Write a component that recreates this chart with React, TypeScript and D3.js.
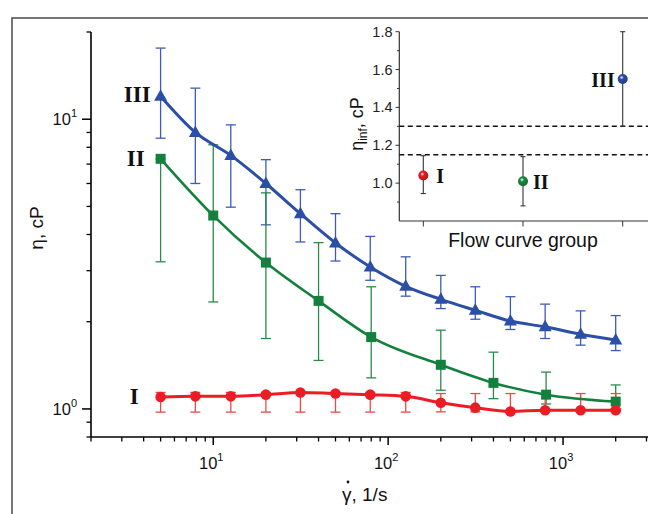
import React from "react";
import * as d3 from "d3";

// shear rate, 1/s
const rates = [5, 7.9, 12.6, 20, 31.5, 50, 79, 126, 200, 315, 500, 790, 1260, 2000];
const greenRates = [5, 10, 20, 40, 80, 200, 400, 800, 2000];

// group III (blue)
const blueVal = [12.0, 9.0, 7.5, 6.0, 4.72, 3.74, 3.09, 2.65, 2.39, 2.19, 2.01, 1.92, 1.81, 1.73];
const blueHi = [17.6, 12.8, 9.56, 7.25, 5.71, 4.72, 3.94, 3.35, 2.89, 2.64, 2.44, 2.3, 2.18, 2.1];
const blueLo = [8.6, 6.0, 4.97, 4.32, 3.77, 3.24, 2.78, 2.45, 2.22, 2.04, 1.88, 1.75, 1.66, 1.59];

// group II (green)
const greenVal = [7.3, 4.65, 3.2, 2.36, 1.77, 1.42, 1.23, 1.12, 1.06];
const greenHi = [7.3, 8.16, 5.57, 3.75, 2.64, 1.87, 1.57, 1.34, 1.21];
const greenLo = [3.22, 2.34, 1.75, 1.47, 1.28, 1.16, 1.085, 1.04, 1.0];

// group I (red)
const redVal = [1.1, 1.105, 1.105, 1.12, 1.14, 1.13, 1.12, 1.105, 1.05, 1.01, 0.98, 0.99, 0.99, 0.99];
const redHi = [1.14, 1.14, 1.14, 1.14, 1.14, 1.14, 1.14, 1.14, 1.13, 1.13, 1.13, 1.13, 1.13, 1.13];
const redLo = [0.975, 0.975, 0.975, 0.975, 0.975, 0.975, 0.975, 0.975, 0.977, 0.977, 0.977, 0.977, 0.977, 0.977];

// inset: infinite-shear viscosity per group
const groups = ["I", "II", "III"];
const infVal = [1.04, 1.01, 1.55];
const infHi = [1.145, 1.14, 1.8];
const infLo = [0.945, 0.88, 1.3];
const dashLevels = [1.3, 1.15];
const insetTicks = [1.0, 1.2, 1.4, 1.6, 1.8];

const BLUE = "#2b4ea6";
const GREEN = "#13803d";
const RED = "#ec1c24";

const App = () => {
  const x = d3.scaleLog().domain([2, 5000]).range([91, 685.3]);
  const y = d3.scaleLog().domain([0.8, 20]).range([437, 32]);

  const xMinor = [2, 3, 4, 5, 6, 7, 8, 9].flatMap((m) => [m, m * 10, m * 100, m * 1000]).filter((v) => v <= 5000);
  const xMajor = [10, 100, 1000];
  const yMinor = [0.8, 0.9, 2, 3, 4, 5, 6, 7, 8, 9, 20];
  const yMajor = [1, 10];

  const line = d3
    .line<[number, number]>()
    .x((d) => x(d[0]))
    .y((d) => y(d[1]))
    .curve(d3.curveMonotoneX);

  const series = [
    { xs: rates, v: blueVal, hi: blueHi, lo: blueLo, color: BLUE, bar: "#3d5cb8", w: 3 },
    { xs: greenRates, v: greenVal, hi: greenHi, lo: greenLo, color: GREEN, bar: "#2a8a4c", w: 2.6 },
    { xs: rates, v: redVal, hi: redHi, lo: redLo, color: RED, bar: "#f04848", w: 3 },
  ];

  // inset scales
  const ix = d3.scalePoint<string>().domain(groups).range([423.3, 622.7]);
  const iy = d3.scaleLinear().domain([0.8, 1.8]).range([221, 31.7]);
  const insetMinor = d3.range(0.9, 1.81, 0.2);
  const sphere = [RED, "#1a8c40", "#2d4fa8"];

  const font = "Arial, 'Liberation Sans', sans-serif";
  const serif = "'Times New Roman', 'Liberation Serif', serif";

  return (
    <svg width={648} height={514} style={{ position: "fixed", left: 0, top: 0, background: "#fff" }}>
      <defs>
        {sphere.map((c, i) => (
          <radialGradient key={i} id={`sph${i}`} cx="0.4" cy="0.35" r="0.65">
            <stop offset="0" stopColor="#ffffff" stopOpacity="0.9" />
            <stop offset="0.3" stopColor={c} />
            <stop offset="1" stopColor={d3.color(c)!.darker(0.8).toString()} />
          </radialGradient>
        ))}
      </defs>

      <rect x={12} y={18} width={700} height={600} fill="none" stroke="#4a4a4a" strokeWidth={1.5} />

      {/* main axes */}
      <line x1={91} x2={91} y1={32} y2={437} stroke="#000" strokeWidth={1.6} />
      <line x1={91} x2={648} y1={437} y2={437} stroke="#000" strokeWidth={1.6} />
      {xMinor.map((v) => (
        <line key={`xm${v}`} x1={x(v)} x2={x(v)} y1={437} y2={441.5} stroke="#000" strokeWidth={1.3} />
      ))}
      {xMajor.map((v) => (
        <g key={`xM${v}`}>
          <line x1={x(v)} x2={x(v)} y1={437} y2={445} stroke="#000" strokeWidth={1.5} />
          <text x={x(v) - 2} y={469} textAnchor="middle" fontFamily={font} fontSize={16.5} fill="#111">
            10<tspan dy={-8} fontSize={11}>{Math.log10(v)}</tspan>
          </text>
        </g>
      ))}
      {yMinor.map((v) => (
        <line key={`ym${v}`} x1={86.5} x2={91} y1={y(v)} y2={y(v)} stroke="#000" strokeWidth={1.3} />
      ))}
      {yMajor.map((v) => (
        <g key={`yM${v}`}>
          <line x1={82} x2={91} y1={y(v)} y2={y(v)} stroke="#000" strokeWidth={1.5} />
          <text x={77} y={y(v) + 6} textAnchor="end" fontFamily={font} fontSize={16.5} fill="#111">
            10<tspan dy={-8} fontSize={11}>{Math.log10(v)}</tspan>
          </text>
        </g>
      ))}

      <text transform="translate(43,228) rotate(-90)" textAnchor="middle" fontFamily={font} fontSize={19} fill="#111">
        η, cP
      </text>
      <text x={342} y={501} fontFamily={font} fontSize={19} fill="#111">
        γ, 1/s
      </text>
      <circle cx={348} cy={482} r={1.4} fill="#111" />

      {/* error bars */}
      {series.map((s, si) =>
        s.xs.map((r, i) => (
          <g key={`e${si}-${i}`} stroke={s.bar} strokeWidth={1.3}>
            <line x1={x(r)} x2={x(r)} y1={y(s.hi[i])} y2={y(s.lo[i])} />
            <line x1={x(r) - 5} x2={x(r) + 5} y1={y(s.hi[i])} y2={y(s.hi[i])} />
            <line x1={x(r) - 5} x2={x(r) + 5} y1={y(s.lo[i])} y2={y(s.lo[i])} />
          </g>
        ))
      )}
      {series.map((s, si) => (
        <path
          key={`l${si}`}
          d={line(s.xs.map((r, i) => [r, s.v[i]] as [number, number])) || ""}
          fill="none"
          stroke={s.color}
          strokeWidth={s.w}
        />
      ))}
      {rates.map((r, i) => (
        <path
          key={`tri${i}`}
          d={`M${x(r)},${y(blueVal[i]) - 7}L${x(r) + 6.5},${y(blueVal[i]) + 4.5}L${x(r) - 6.5},${y(blueVal[i]) + 4.5}Z`}
          fill={BLUE}
        />
      ))}
      {greenRates.map((r, i) => (
        <rect key={`sq${i}`} x={x(r) - 5} y={y(greenVal[i]) - 5} width={10} height={10} fill={GREEN} />
      ))}
      {rates.map((r, i) => (
        <circle key={`ci${i}`} cx={x(r)} cy={y(redVal[i])} r={5.3} fill={RED} />
      ))}

      <g fontFamily={serif} fontWeight="bold" fontSize={23} fill="#111" textAnchor="end">
        <text x={x(5) - 10} y={y(blueVal[0]) + 6}>III</text>
        <text x={x(5) - 16} y={y(greenVal[0]) + 7}>II</text>
        <text x={x(5) - 22} y={y(redVal[0]) + 7}>I</text>
      </g>

      {/* inset */}
      <line x1={399.3} x2={399.3} y1={31.7} y2={221} stroke="#333" strokeWidth={1.2} />
      <line x1={399.3} x2={648} y1={221} y2={221} stroke="#333" strokeWidth={1.2} />
      {insetTicks.map((v) => (
        <g key={`it${v}`}>
          <line x1={395.5} x2={399.3} y1={iy(v)} y2={iy(v)} stroke="#333" strokeWidth={1} />
          <text x={392.5} y={iy(v) + 5} textAnchor="end" fontFamily={font} fontSize={14.5} fill="#222">
            {v.toFixed(1)}
          </text>
        </g>
      ))}
      {insetMinor.map((v) => (
        <line key={`im${v}`} x1={397} x2={399.3} y1={iy(v)} y2={iy(v)} stroke="#333" strokeWidth={1} />
      ))}
      {groups.map((g) => (
        <line key={`gx${g}`} x1={ix(g)} x2={ix(g)} y1={221} y2={226.5} stroke="#333" strokeWidth={1} />
      ))}
      {dashLevels.map((v) => (
        <line key={`d${v}`} x1={399.3} x2={648} y1={iy(v)} y2={iy(v)} stroke="#111" strokeWidth={1.5} strokeDasharray="5,3.5" />
      ))}
      {groups.map((g, i) => (
        <g key={`ie${g}`} stroke="#333" strokeWidth={1.1}>
          <line x1={ix(g)} x2={ix(g)} y1={iy(infHi[i])} y2={iy(infLo[i])} />
          <line x1={ix(g)! - 2.5} x2={ix(g)! + 2.5} y1={iy(infHi[i])} y2={iy(infHi[i])} />
          <line x1={ix(g)! - 2.5} x2={ix(g)! + 2.5} y1={iy(infLo[i])} y2={iy(infLo[i])} />
        </g>
      ))}
      {groups.map((g, i) => (
        <circle key={`is${g}`} cx={ix(g)} cy={iy(infVal[i])} r={5} fill={`url(#sph${i})`} />
      ))}
      <g fontFamily={serif} fontWeight="bold" fontSize={20} fill="#111">
        <text x={ix("I")! + 13} y={iy(infVal[0]) + 7}>I</text>
        <text x={ix("II")! + 10} y={iy(infVal[1]) + 8}>II</text>
        <text x={ix("III")! - 8} y={iy(infVal[2]) + 8} textAnchor="end">III</text>
      </g>
      <text x={523} y={247} textAnchor="middle" fontFamily={font} fontSize={19.5} fill="#111">
        Flow curve group
      </text>
      <text transform="translate(363,124) rotate(-90)" textAnchor="middle" fontFamily={font} fontSize={18} fill="#111">
        η<tspan dy={4} fontSize={12}>inf</tspan>
        <tspan dy={-4}>, cP</tspan>
      </text>
    </svg>
  );
};

export default App;
